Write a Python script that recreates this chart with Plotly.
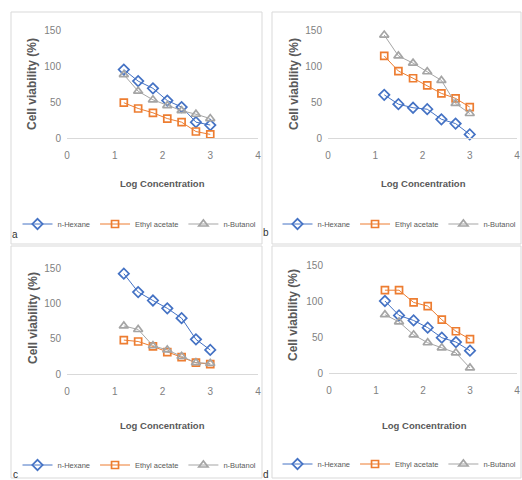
import plotly.graph_objects as go

# ---- data ----
log_conc = [1.19, 1.49, 1.80, 2.10, 2.40, 2.70, 3.00]
series_names = ["n-Hexane", "Ethyl acetate", "n-Butanol"]
x_ticks = [0, 1, 2, 3, 4]
y_ticks = [0, 50, 100, 150]
panel_labels = ["a", "b", "c", "d"]

a_hexane = [95, 79, 69, 52, 43, 22, 18]
a_ethyl = [49, 41, 35, 27, 22, 9, 5]
a_butanol = [88, 65, 53, 45, 38, 33, 27]

b_hexane = [60, 47, 42, 40, 26, 20, 5]
b_ethyl = [114, 93, 83, 73, 62, 55, 43]
b_butanol = [143, 114, 104, 92, 80, 48, 34]

c_hexane = [142, 116, 104, 93, 79, 49, 34]
c_ethyl = [48, 46, 39, 31, 24, 16, 14]
c_butanol = [68, 63, 40, 34, 25, 16, 15]

d_hexane = [100, 80, 73, 63, 49, 43, 31]
d_ethyl = [115, 115, 98, 93, 74, 58, 47]
d_butanol = [81, 71, 53, 42, 35, 28, 7]

panels = [
    [a_hexane, a_ethyl, a_butanol],
    [b_hexane, b_ethyl, b_butanol],
    [c_hexane, c_ethyl, c_butanol],
    [d_hexane, d_ethyl, d_butanol],
]

# ---- style ----
W, H = 522, 480
colors = ["#4472C4", "#ED7D31", "#A5A5A5"]
symbols = ["diamond-open", "square-open", "triangle-up-open"]
sizes = [8, 7, 8]
FONT = "Liberation Sans, Arial"
GRAY = "#595959"

layouts = [
    dict(x0=67, x1=258, yb=138, yt=30, box=(11, 12, 262, 244), ytc=84, xt=183, leg=224, ylx=32, lab=(15, 235)),
    dict(x0=328, x1=517, yb=138, yt=30, box=(272, 12, 521, 244), ytc=84, xt=183, leg=224, ylx=294, lab=(266, 233)),
    dict(x0=67, x1=258, yb=374, yt=268, box=(11, 246, 262, 478), ytc=318, xt=425, leg=465, ylx=33, lab=(15, 474)),
    dict(x0=329, x1=517, yb=373, yt=265, box=(272, 246, 521, 478), ytc=315, xt=425, leg=464, ylx=293, lab=(266, 474)),
]

fig = go.Figure()
shapes = []
annotations = []
layout_kw = {}

for i, (vals, L) in enumerate(zip(panels, layouts)):
    n = "" if i == 0 else str(i + 1)
    leg = "legend" + n
    for j, s in enumerate(vals):
        fig.add_trace(go.Scatter(
            x=log_conc, y=s, name=series_names[j], mode="lines+markers",
            line=dict(color=colors[j], width=1),
            marker=dict(symbol=symbols[j], size=sizes[j], color=colors[j],
                        line=dict(width=1.7, color=colors[j])),
            xaxis="x" + n, yaxis="y" + n, legend=leg, cliponaxis=False,
        ))
    layout_kw["xaxis" + n] = dict(
        domain=[L["x0"] / W, L["x1"] / W], range=[0, 4], tickvals=x_ticks,
        showgrid=False, zeroline=False, showline=True, linecolor="#D9D9D9",
        linewidth=1, ticks="", tickfont=dict(family=FONT, size=10, color="#7F7F7F"),
        ticklabelstandoff=8, anchor="y" + n, fixedrange=True, automargin=False,
    )
    layout_kw["yaxis" + n] = dict(
        domain=[1 - L["yb"] / H, 1 - L["yt"] / H], range=[0, 150], tickvals=y_ticks,
        showgrid=False, zeroline=False, showline=False, ticks="",
        tickfont=dict(family=FONT, size=10, color="#7F7F7F"),
        ticklabelstandoff=5, anchor="x" + n, fixedrange=True, automargin=False,
    )
    cx = (L["box"][0] + L["box"][2]) / 2 + 3
    layout_kw[leg] = dict(
        orientation="h", x=cx / W, xanchor="center", y=1 - L["leg"] / H, yanchor="middle",
        font=dict(family=FONT, size=7.5, color=GRAY), bgcolor="rgba(0,0,0,0)",
        itemwidth=30, tracegroupgap=0,
    )
    bx0, by0, bx1, by1 = L["box"]
    shapes.append(dict(type="rect", xref="paper", yref="paper",
                       x0=bx0 / W, x1=bx1 / W, y0=1 - by1 / H, y1=1 - by0 / H,
                       line=dict(color="#D9D9D9", width=1), fillcolor="rgba(0,0,0,0)", layer="below"))
    annotations.append(dict(text="<b>Log Concentration</b>", xref="paper", yref="paper",
                            x=(L["x0"] + 191 * 0.5) / W, y=1 - L["xt"] / H, showarrow=False,
                            xanchor="center", yanchor="middle",
                            font=dict(family=FONT, size=9.5, color=GRAY)))
    annotations.append(dict(text="<b>Cell viability (%)</b>", xref="paper", yref="paper",
                            x=L["ylx"] / W, y=1 - L["ytc"] / H, showarrow=False, textangle=-90,
                            xanchor="center", yanchor="middle",
                            font=dict(family=FONT, size=12, color=GRAY)))
    annotations.append(dict(text=panel_labels[i], xref="paper", yref="paper",
                            x=L["lab"][0] / W, y=1 - L["lab"][1] / H, showarrow=False,
                            xanchor="center", yanchor="middle",
                            font=dict(family=FONT, size=10, color="#333333")))

fig.update_layout(
    width=W, height=H, margin=dict(l=0, r=0, t=0, b=0, autoexpand=False),
    paper_bgcolor="white", plot_bgcolor="white",
    shapes=shapes, annotations=annotations, **layout_kw,
)

fig.write_html("out.html", config={"displayModeBar": False},
               post_script="document.body.style.margin='0px';document.body.style.overflow='hidden';")
